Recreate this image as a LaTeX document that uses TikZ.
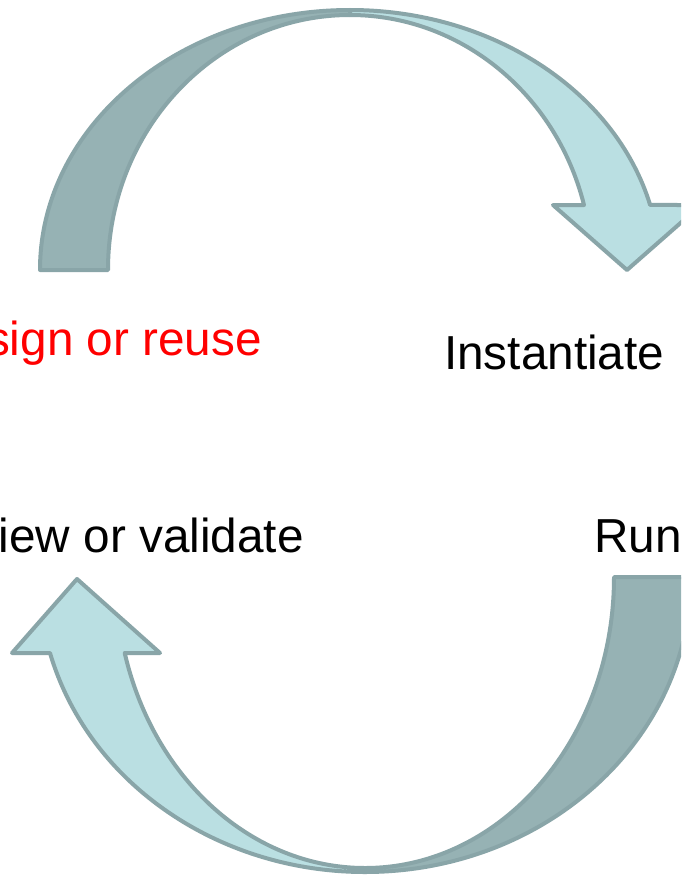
\documentclass[tikz,border=0pt]{standalone}
\usepackage{fontspec}
\setmainfont{Liberation Sans}
\definecolor{edgec}{RGB}{137,165,168}
\definecolor{darkfill}{RGB}{150,178,180}
\definecolor{lightfill}{RGB}{186,223,226}
\begin{document}
\begin{tikzpicture}[x=1pt,y=1pt,
  band/.style={draw=edgec, line width=4pt, line join=round},
  lbl/.style={font=\fontsize{47.7}{57}\selectfont, inner sep=0pt}]
\useasboundingbox (0,0) rectangle (681,-875);
\fill[white] (0,0) rectangle (681,-875);
\begin{scope}
\clip (0,0) rectangle (681,-875);
% top arrow, back (dark) band
\path[band, fill=darkfill] (40,-270) arc[start angle=180, end angle=90, x radius=310pt, y radius=260pt]
  -- (350,-15) arc[start angle=90, end angle=180, x radius=242pt, y radius=255pt] -- cycle;
% top arrow, front (light) band with head
\path[band, fill=lightfill] (350,-10) arc[start angle=90, end angle=14.48, x radius=310pt, y radius=260pt]
  -- (701,-205) -- (627,-270) -- (553,-205) -- (584,-205)
  arc[start angle=14.77, end angle=90, x radius=242pt, y radius=255pt] -- cycle;
% bottom arrow, back (dark) band
\path[band, fill=darkfill] (691,-577) arc[start angle=0, end angle=-90, x radius=326pt, y radius=295pt]
  -- (365,-868) arc[start angle=-90, end angle=0, x radius=249pt, y radius=291pt] -- cycle;
% bottom arrow, front (light) band with head
\path[band, fill=lightfill] (365,-872) arc[start angle=270, end angle=194.93, x radius=326pt, y radius=295pt]
  -- (12,-653) -- (77,-579) -- (160,-653) -- (124.7,-653)
  arc[start angle=195.14, end angle=270, x radius=249pt, y radius=291pt] -- cycle;
\end{scope}
\node[lbl, text=red, anchor=base east] (design) at (262,-355) {Design or reuse};
\node[lbl, anchor=base west] (inst) at (444,-369) {Instantiate};
\node[lbl, anchor=base east] (review) at (304,-552) {Review or validate};
\node[lbl, anchor=base west] (run) at (594,-552) {Run};
\end{tikzpicture}
\end{document}
